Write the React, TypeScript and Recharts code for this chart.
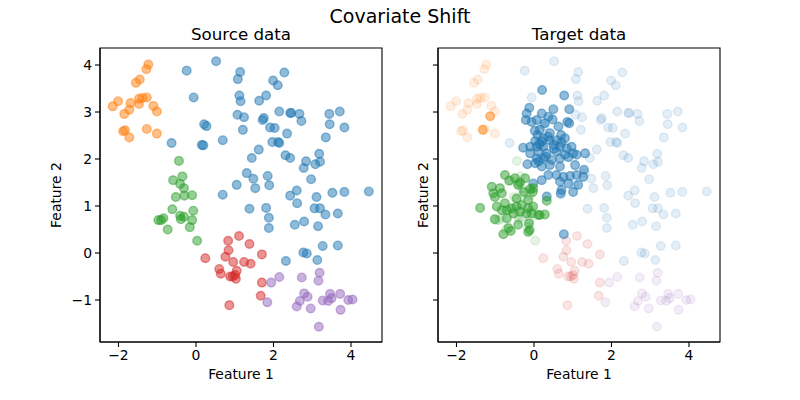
import React from 'react';
import { ScatterChart, Scatter, XAxis, YAxis, ReferenceArea } from 'recharts';

// ---------- data (Feature 1, Feature 2) ----------
const srcBlue: [number, number][] = [
  [0.52, 4.08], [-0.24, 3.88], [1.14, 3.85], [1.08, 3.70], [1.12, 3.35], [1.15, 3.23], [-0.06, 3.31],
  [1.07, 2.94], [1.24, 2.89], [0.21, 2.74], [0.27, 2.70], [1.21, 2.62], [0.69, 2.40], [-0.63, 2.34],
  [0.15, 2.30], [0.19, 2.29], [1.31, 1.70], [1.05, 1.45], [0.69, 1.24], [2.28, 3.84], [1.99, 3.67],
  [2.11, 3.57], [1.81, 3.35], [1.63, 3.24], [2.15, 3.01], [2.43, 2.98], [2.46, 2.98], [2.67, 2.96],
  [2.72, 2.81], [3.44, 2.96], [3.71, 3.01], [1.75, 2.87], [1.72, 2.83], [1.91, 2.67], [2.03, 2.66],
  [2.35, 2.54], [3.45, 2.74], [3.83, 2.67], [3.35, 2.46], [1.97, 2.36], [2.12, 2.36], [2.15, 2.34],
  [1.62, 2.20], [1.44, 2.02], [2.31, 2.08], [2.43, 2.02], [2.84, 1.95], [2.78, 1.81], [3.18, 2.11],
  [3.20, 1.94], [3.08, 1.89], [1.48, 1.58], [1.85, 1.64], [1.89, 1.44], [1.53, 1.38], [2.97, 1.57],
  [2.43, 1.22], [2.60, 1.33], [3.11, 1.19], [3.52, 1.28], [3.83, 1.30], [4.46, 1.31], [2.61, 1.06],
  [1.38, 0.94], [1.81, 0.96], [1.88, 0.75], [1.88, 0.53], [2.55, 0.60], [2.79, 0.67], [3.15, 0.57],
  [3.06, 0.95], [3.20, 0.95], [3.34, 0.82], [3.66, 0.84], [2.77, 0.01], [2.86, -0.01], [2.32, -0.17],
  [3.27, 0.15], [3.66, 0.16], [3.13, -0.15],
];
const srcOrange: [number, number][] = [
  [-1.23, 4.01], [-1.28, 3.91], [-1.45, 3.69], [-1.55, 3.62], [-2.01, 3.23], [-2.15, 3.12], [-1.69, 3.19],
  [-1.72, 3.05], [-1.85, 2.96], [-1.47, 3.17], [-1.47, 3.28], [-1.38, 3.30], [-1.27, 3.31], [-1.10, 3.13],
  [-1.01, 3.01], [-1.83, 2.61], [-1.88, 2.59], [-1.72, 2.46], [-1.27, 2.64], [-1.01, 2.54],
];
const srcGreen: [number, number][] = [
  [-0.44, 1.96], [-0.35, 1.63], [-0.59, 1.55], [-0.41, 1.47], [-0.31, 1.38], [-0.52, 1.19], [-0.30, 1.22],
  [-0.10, 1.23], [-0.61, 0.93], [-0.07, 0.90], [-0.41, 0.79], [-0.39, 0.72], [-0.31, 0.77], [-0.10, 0.70],
  [-0.84, 0.74], [-0.90, 0.70], [-0.97, 0.70], [-0.73, 0.50], [-0.16, 0.55], [0.03, 0.26],
];
const srcRed: [number, number][] = [
  [0.83, 0.26], [1.11, 0.36], [0.84, 0.06], [0.76, -0.08], [0.96, -0.19], [1.24, -0.19], [0.24, -0.11],
  [0.60, -0.34], [0.64, -0.44], [1.05, -0.38], [0.88, -0.50], [0.95, -0.50], [1.01, -0.47], [1.03, -0.55],
  [0.86, -1.11], [1.38, 0.19], [1.70, -0.03], [1.41, -0.23], [1.70, -0.63], [1.67, -0.91],
];
const srcPurple: [number, number][] = [
  [1.94, -0.63], [2.15, -0.51], [2.73, -0.52], [3.19, -0.42], [3.16, -0.59], [1.84, -1.05], [2.79, -0.86],
  [2.88, -0.93], [2.68, -1.02], [2.60, -1.14], [2.96, -1.18], [3.27, -1.01], [3.46, -0.87], [3.50, -0.96],
  [3.41, -1.02], [3.72, -0.87], [3.93, -1.00], [4.04, -0.99], [3.73, -1.21], [3.17, -1.57],
];
const tgtBlue: [number, number][] = [
  [0.21, 3.47], [0.78, 3.35], [-0.12, 3.09], [0.50, 3.06], [0.91, 3.06], [-0.19, 2.97], [0.20, 2.97],
  [0.37, 2.90], [0.48, 2.84], [-0.21, 2.83], [-0.06, 2.79], [0.07, 2.83], [0.28, 2.76], [0.86, 2.79],
  [0.91, 2.76], [0.15, 2.62], [0.63, 2.69], [0.41, 2.55], [0.09, 2.51], [0.24, 2.44], [0.70, 2.51],
  [0.80, 2.44], [0.03, 2.38], [0.20, 2.37], [0.41, 2.40], [0.58, 2.40], [0.71, 2.35], [-0.28, 2.24],
  [-0.10, 2.26], [0.07, 2.26], [0.24, 2.26], [0.50, 2.30], [0.67, 2.26], [0.84, 2.23], [0.97, 2.26],
  [-0.10, 2.12], [0.11, 2.16], [0.33, 2.12], [0.58, 2.16], [0.80, 2.09], [1.01, 2.12], [1.32, 2.12],
  [0.07, 2.01], [0.24, 2.01], [0.46, 1.98], [0.67, 2.01], [0.89, 2.04], [1.10, 2.09], [-0.17, 1.89],
  [0.03, 1.91], [0.20, 1.84], [0.41, 1.87], [0.67, 1.84], [1.06, 1.87], [1.29, 1.77], [0.37, 1.66],
  [0.58, 1.66], [0.76, 1.62], [0.93, 1.64], [1.10, 1.66], [1.27, 1.62], [-0.02, 1.48], [0.20, 1.55],
  [0.67, 1.52], [0.89, 1.48], [1.14, 1.45], [0.71, 1.34], [1.01, 1.30], [0.33, 1.20], [0.69, 1.27],
  [0.77, 0.40], [0.14, 2.33], [0.30, 2.05], [0.52, 2.22], [0.12, 1.95], [0.36, 2.48], [0.02, 2.60],
];
const tgtGreen: [number, number][] = [
  [-0.75, 1.66], [-0.49, 1.59], [-0.23, 1.59], [-0.64, 1.54], [-0.36, 1.50], [-1.09, 1.41], [-0.88, 1.38],
  [-0.41, 1.45], [-0.10, 1.36], [-0.02, 1.38], [-1.05, 1.27], [-0.83, 1.27], [-0.26, 1.30], [-1.01, 1.19],
  [-1.39, 0.96], [-0.96, 0.99], [-0.75, 1.06], [-0.45, 1.16], [-0.15, 1.13], [-0.70, 0.91], [-0.83, 0.91],
  [-0.58, 0.95], [-0.45, 0.99], [-0.32, 1.02], [-0.15, 0.95], [-0.02, 0.99], [0.11, 0.81], [0.28, 0.82],
  [-0.36, 0.88], [-0.19, 0.84], [-0.06, 0.84], [-0.53, 0.84], [-0.70, 0.74], [-1.01, 0.72], [-0.66, 0.53],
  [-0.41, 0.60], [-0.13, 0.63], [-0.15, 0.45], [-0.79, 0.40], [-0.60, 0.47], [0.33, 1.11], [0.15, 0.81],
  [-0.11, 0.49], [-0.03, 1.30],
];
const tgtOrange: [number, number][] = [[-1.13, 2.91], [-1.32, 2.62]];

const xTicks = [-2, 0, 2, 4];
const yTicks = [-1, 0, 1, 2, 3, 4];

// ---------- styling ----------
const C = { blue: '#1f77b4', orange: '#ff7f0e', green: '#2ca02c', red: '#d62728', purple: '#9467bd' };
const XDOM: [number, number] = [-2.477, 4.8];
const YDOM: [number, number] = [-1.894, 4.362];
const FONT = '"DejaVu Sans", sans-serif';

const toPts = (arr: [number, number][]) => arr.map(([x, y]) => ({ x, y }));
const fmt = (v: number) => String(v).replace('-', '\u2212');

const dot = (color: string, alpha: number) => (p: any) => (
  <circle cx={p.cx} cy={p.cy} r={4.3} fill={color} fillOpacity={alpha} stroke={color} strokeOpacity={alpha} strokeWidth={1.4} />
);

type Layer = { data: [number, number][]; color: string; alpha: number };

function Panel({ layers, yAxisWidth, marginRight, showYLabels }: { layers: Layer[]; yAxisWidth: number; marginRight: number; showYLabels: boolean }) {
  return (
    <ScatterChart width={400} height={400} margin={{ top: 48, right: marginRight, bottom: 0, left: 0 }}>
      <XAxis type="number" dataKey="x" domain={XDOM} ticks={xTicks} allowDataOverflow height={58}
        tickFormatter={fmt} tickSize={5} tickMargin={3}
        tick={{ fill: '#000', fontSize: 13.9, fontFamily: FONT }}
        axisLine={{ stroke: '#000', strokeWidth: 1.1 }} tickLine={{ stroke: '#000', strokeWidth: 1.1 }} />
      <YAxis type="number" dataKey="y" domain={YDOM} ticks={yTicks} allowDataOverflow width={yAxisWidth}
        tickFormatter={showYLabels ? fmt : () => ''} tickSize={5} tickMargin={3}
        tick={{ fill: '#000', fontSize: 13.9, fontFamily: FONT }}
        axisLine={{ stroke: '#000', strokeWidth: 1.1 }} tickLine={{ stroke: '#000', strokeWidth: 1.1 }} />
      {layers.map((l, i) => (
        <Scatter key={i} data={toPts(l.data)} isAnimationActive={false} shape={dot(l.color, l.alpha)} />
      ))}
      <ReferenceArea x1={XDOM[0]} x2={XDOM[1]} y1={YDOM[0]} y2={YDOM[1]} fill="none" fillOpacity={0}
        stroke="#000" strokeWidth={1.1} strokeOpacity={1} ifOverflow="visible" />
    </ScatterChart>
  );
}

const textStyle = (left: number, top: number, size: number): React.CSSProperties => ({
  position: 'absolute', left, top, transform: 'translate(-50%, -50%)', fontFamily: FONT, fontSize: size,
  color: '#000', whiteSpace: 'nowrap', lineHeight: 1,
});

export default function App() {
  const faded = 0.12;
  return (
    <div style={{ position: 'absolute', left: 0, top: 0, width: 800, height: 400, background: '#fff', overflow: 'hidden' }}>
      <div style={{ position: 'absolute', left: 0, top: 0 }}>
        <Panel yAxisWidth={100} marginRight={18} showYLabels layers={[
          { data: srcBlue, color: C.blue, alpha: 0.5 },
          { data: srcOrange, color: C.orange, alpha: 0.5 },
          { data: srcGreen, color: C.green, alpha: 0.5 },
          { data: srcRed, color: C.red, alpha: 0.5 },
          { data: srcPurple, color: C.purple, alpha: 0.5 },
        ]} />
      </div>
      <div style={{ position: 'absolute', left: 400, top: 0 }}>
        <Panel yAxisWidth={38} marginRight={80} showYLabels={false} layers={[
          { data: srcBlue, color: C.blue, alpha: faded },
          { data: srcOrange, color: C.orange, alpha: faded },
          { data: srcGreen, color: C.green, alpha: faded },
          { data: srcRed, color: C.red, alpha: faded },
          { data: srcPurple, color: C.purple, alpha: faded },
          { data: tgtBlue, color: C.blue, alpha: 0.5 },
          { data: tgtOrange, color: C.orange, alpha: 0.5 },
          { data: tgtGreen, color: C.green, alpha: 0.5 },
        ]} />
      </div>
      <div style={textStyle(400, 16, 19)}>Covariate Shift</div>
      <div style={textStyle(241, 34, 16.7)}>Source data</div>
      <div style={textStyle(579, 34, 16.7)}>Target data</div>
      <div style={textStyle(241, 375, 13.9)}>Feature 1</div>
      <div style={textStyle(579, 375, 13.9)}>Feature 1</div>
      <div style={{ ...textStyle(57, 195, 13.9), transform: 'translate(-50%, -50%) rotate(-90deg)' }}>Feature 2</div>
      <div style={{ ...textStyle(424, 195, 13.9), transform: 'translate(-50%, -50%) rotate(-90deg)' }}>Feature 2</div>
    </div>
  );
}
